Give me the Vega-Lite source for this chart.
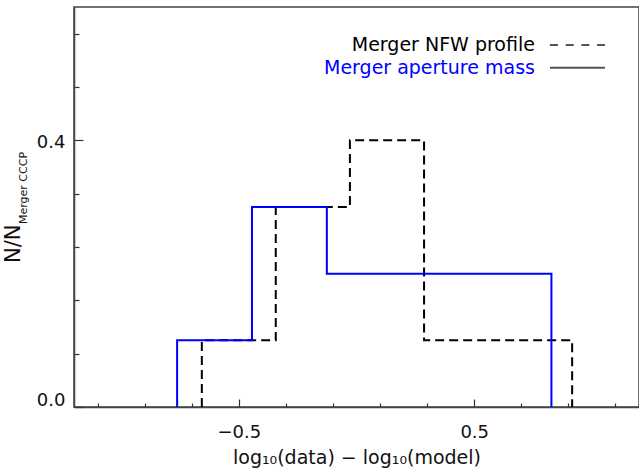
{
  "$schema": "https://vega.github.io/schema/vega-lite/v6.json",
  "width": 565,
  "height": 400,
  "autosize": {"type": "none"},
  "padding": {"left": 74, "top": 7, "right": 0, "bottom": 63},
  "background": "white",
  "config": {
    "view": {"stroke": "#444", "strokeWidth": 1.5},
    "font": "DejaVu Sans",
    "axis": {
      "grid": false,
      "domainColor": "#444",
      "domainWidth": 1.5,
      "labelFont": "DejaVu Sans",
      "labelFontSize": 18,
      "labelColor": "#111",
      "labelOverlap": false,
      "titleFont": "DejaVu Sans",
      "titleFontWeight": "normal",
      "titleColor": "#111"
    }
  },
  "datasets": {
    "hist": [
      {"series": "Merger NFW profile", "i": 0, "edge": -0.657, "frac": 0},
      {"series": "Merger NFW profile", "i": 1, "edge": -0.657, "frac": 0.1},
      {"series": "Merger NFW profile", "i": 2, "edge": -0.343, "frac": 0.3},
      {"series": "Merger NFW profile", "i": 3, "edge": -0.028, "frac": 0.4},
      {"series": "Merger NFW profile", "i": 4, "edge": 0.287, "frac": 0.1},
      {"series": "Merger NFW profile", "i": 5, "edge": 0.601, "frac": 0.1},
      {"series": "Merger NFW profile", "i": 6, "edge": 0.916, "frac": 0},
      {"series": "Merger aperture mass", "i": 0, "edge": -0.762, "frac": 0},
      {"series": "Merger aperture mass", "i": 1, "edge": -0.762, "frac": 0.1},
      {"series": "Merger aperture mass", "i": 2, "edge": -0.444, "frac": 0.3},
      {"series": "Merger aperture mass", "i": 3, "edge": -0.126, "frac": 0.2},
      {"series": "Merger aperture mass", "i": 4, "edge": 0.192, "frac": 0.2},
      {"series": "Merger aperture mass", "i": 5, "edge": 0.510, "frac": 0.2},
      {"series": "Merger aperture mass", "i": 6, "edge": 0.828, "frac": 0}
    ]
  },
  "layer": [
    {
      "data": {"name": "hist"},
      "transform": [{"filter": "datum.series === 'Merger NFW profile'"}],
      "mark": {"type": "line", "interpolate": "step-after", "color": "#000", "strokeWidth": 2, "strokeDash": [9, 5]},
      "encoding": {
        "order": {"field": "i", "type": "quantitative"},
        "x": {
          "field": "edge", "type": "quantitative",
          "scale": {"domain": [-1.2, 1.2], "nice": false, "zero": false},
          "axis": {
            "orient": "bottom",
            "title": "log₁₀(data) − log₁₀(model)",
            "titleFontSize": 19,
            "titlePadding": 3,
            "format": ".1f",
            "labelOverlap": false,
            "labelExpr": "abs(round(datum.value*10)%5)==0 ? datum.label : ''",
            "labelPadding": 24,
            "ticks": true, "tickColor": "#333", "tickWidth": 1.2,
            "values": [-1.1, -1.0, -0.9, -0.8, -0.7, -0.6, -0.5, -0.4, -0.3, -0.2, -0.1, 0, 0.1, 0.2, 0.3, 0.4, 0.5, 0.6, 0.7, 0.8, 0.9, 1.0, 1.1],
            "tickSize": {"condition": {"test": "abs(round(datum.value*10)%5)==0", "value": -8}, "value": -4}
          }
        },
        "y": {
          "field": "frac", "type": "quantitative",
          "scale": {"domain": [0, 0.6], "nice": false, "zero": false},
          "axis": {
            "orient": "left", "title": null,
            "format": ".1f",
            "labelOverlap": false,
            "labelExpr": "abs(round(datum.value*100)%10)==0 ? datum.label : ''",
            "labelPadding": 18,
            "labelFlush": true,
            "labelOffset": 2,
            "ticks": true, "tickColor": "#333", "tickWidth": 1.2,
            "values": [0, 0.01, 0.02, 0.03, 0.04, 0.05, 0.06, 0.07, 0.08, 0.09, 0.1, 0.11, 0.12, 0.13, 0.14, 0.15, 0.16, 0.17, 0.18, 0.19, 0.2, 0.21, 0.22, 0.23, 0.24, 0.25, 0.26, 0.27, 0.28, 0.29, 0.3, 0.31, 0.32, 0.33, 0.34, 0.35, 0.36, 0.37, 0.38, 0.39, 0.4, 0.41, 0.42, 0.43, 0.44, 0.45, 0.46, 0.47, 0.48, 0.49, 0.5, 0.51, 0.52, 0.53, 0.54, 0.55, 0.56, 0.57, 0.58, 0.59, 0.6],
            "tickSize": {"condition": {"test": "abs(round(datum.value*100)%10)==0", "value": -9}, "value": -5}
          }
        }
      }
    },
    {
      "data": {"name": "hist"},
      "transform": [{"filter": "datum.series === 'Merger aperture mass'"}],
      "mark": {"type": "line", "interpolate": "step-after", "color": "#0000ff", "strokeWidth": 2},
      "encoding": {
        "order": {"field": "i", "type": "quantitative"},
        "x": {"field": "edge", "type": "quantitative"},
        "y": {"field": "frac", "type": "quantitative"}
      }
    },
    {
      "data": {"values": [{}]},
      "mark": {"type": "text", "align": "right", "baseline": "middle", "fontSize": 19, "color": "#000"},
      "encoding": {
        "x": {"datum": 0.758, "type": "quantitative"},
        "y": {"datum": 0.543, "type": "quantitative"},
        "text": {"value": "Merger NFW profile"}
      }
    },
    {
      "data": {"values": [{}]},
      "mark": {"type": "text", "align": "right", "baseline": "middle", "fontSize": 19, "color": "#0000ff"},
      "encoding": {
        "x": {"datum": 0.758, "type": "quantitative"},
        "y": {"datum": 0.509, "type": "quantitative"},
        "text": {"value": "Merger aperture mass"}
      }
    },
    {
      "data": {"values": [{}]},
      "mark": {"type": "rule", "color": "#555", "strokeWidth": 2, "strokeDash": [8, 7.7]},
      "encoding": {
        "x": {"datum": 0.822, "type": "quantitative"},
        "x2": {"datum": 1.0555},
        "y": {"datum": 0.543, "type": "quantitative"}
      }
    },
    {
      "data": {"values": [{}]},
      "mark": {"type": "rule", "color": "#555", "strokeWidth": 2},
      "encoding": {
        "x": {"datum": 0.822, "type": "quantitative"},
        "x2": {"datum": 1.0555},
        "y": {"datum": 0.509, "type": "quantitative"}
      }
    },
    {
      "data": {"values": [{}]},
      "mark": {"type": "text", "align": "left", "baseline": "middle", "angle": 270, "fontSize": 21, "color": "#111"},
      "encoding": {
        "x": {"datum": -1.455, "type": "quantitative"},
        "y": {"datum": 0.216, "type": "quantitative"},
        "text": {"value": "N/N"}
      }
    },
    {
      "data": {"values": [{}]},
      "mark": {"type": "text", "align": "left", "baseline": "middle", "angle": 270, "fontSize": 11, "color": "#111"},
      "encoding": {
        "x": {"datum": -1.413, "type": "quantitative"},
        "y": {"datum": 0.2745, "type": "quantitative"},
        "text": {"value": "Merger CCCP"}
      }
    }
  ]
}
